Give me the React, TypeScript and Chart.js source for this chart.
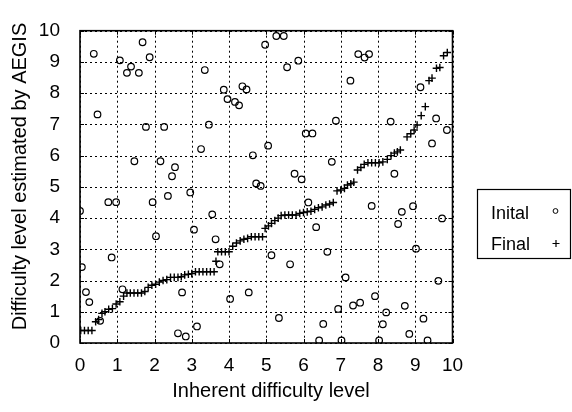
import React, { useEffect, useRef } from "react";
import { Chart, registerables } from "chart.js";

Chart.register(...registerables);

const axisTicks = [0, 1, 2, 3, 4, 5, 6, 7, 8, 9, 10];
const seriesLabels = ["Inital", "Final"];
const xTitle = "Inherent difficulty level";
const yTitle = "Difficulty level estimated by AEGIS";

const initialX = [
  0.37, 0.47, 1.07, 1.37, 1.26, 1.58, 1.68, 1.87, 1.77, 2.26, 1.46, 2.16, 2.55, 2.47, 3.35, 3.46, 3.25, 3.86, 3.96, 4.16,
  4.27, 4.36, 4.47, 4.64, 5.27, 5.47, 4.97, 5.86, 5.56, 7.47, 7.64, 7.76, 7.26, 9.14, 6.87, 8.34, 9.56, 9.85, 6.06, 6.24,
  5.05, 9.45, 6.76, 5.76, 5.95, 8.44, 0.0, 0.05, 0.16, 0.25, 0.54, 0.76, 0.97, 0.85, 1.14, 1.95, 2.04, 2.36, 2.96, 2.74,
  2.63, 2.84, 3.06, 3.14, 3.55, 3.64, 3.75, 4.03, 4.53, 4.73, 4.85, 6.13, 6.34, 7.83, 8.64, 8.54, 8.94, 9.72, 9.02, 6.64,
  5.14, 5.64, 7.13, 9.62, 7.92, 7.33, 7.52, 6.93, 8.72, 8.22, 5.34, 9.22, 8.13, 6.53, 8.84, 6.42, 7.02, 8.03, 9.33,
];
const initialY = [
  9.26, 7.32, 9.05, 8.85, 8.65, 8.65, 9.63, 9.15, 6.92, 6.92, 5.82, 5.82, 5.63, 5.34, 8.74, 6.99, 6.21, 8.11, 7.81, 7.72,
  7.61, 8.22, 8.12, 6.01, 9.83, 9.83, 9.55, 9.04, 8.83, 9.25, 9.14, 9.25, 8.4, 8.19, 7.12, 7.09, 7.19, 6.82, 6.71, 6.71,
  6.32, 6.39, 5.8, 5.42, 5.24, 5.42, 4.23, 2.43, 1.63, 1.31, 0.71, 4.51, 4.51, 2.74, 1.72, 4.51, 3.42, 4.71, 4.82, 1.62,
  0.31, 0.21, 3.63, 0.53, 4.12, 3.32, 2.52, 1.41, 1.62, 5.11, 5.03, 4.5, 3.71, 4.39, 4.2, 3.81, 4.38, 3.99, 3.02, 2.92,
  2.81, 2.52, 2.1, 1.99, 1.5, 1.2, 1.29, 1.09, 1.19, 0.98, 0.8, 0.78, 0.6, 0.61, 0.29, 0.08, 0.08, 0.08, 0.08,
];

const finalX = [
  0.02, 0.12, 0.22, 0.32, 0.42, 0.5, 0.59, 0.67, 0.77, 0.87, 0.97, 1.07, 1.17, 1.26, 1.35, 1.45, 1.55, 1.65, 1.74, 1.83,
  1.93, 2.03, 2.13, 2.23, 2.33, 2.43, 2.53, 2.63, 2.72, 2.81, 2.91, 3.0, 3.1, 3.2, 3.3, 3.4, 3.5, 3.6, 3.65, 3.7,
  3.8, 3.9, 4.0, 4.1, 4.2, 4.3, 4.4, 4.5, 4.6, 4.7, 4.8, 4.9, 4.97, 5.06, 5.14, 5.23, 5.32, 5.4, 5.5, 5.6,
  5.7, 5.8, 5.9, 6.0, 6.1, 6.2, 6.3, 6.4, 6.5, 6.6, 6.7, 6.8, 6.9, 7.0, 7.1, 7.18, 7.27, 7.35, 7.45, 7.54,
  7.63, 7.73, 7.83, 7.93, 8.03, 8.13, 8.25, 8.35, 8.44, 8.52, 8.6, 8.78, 8.88, 8.97, 9.05, 9.16, 9.27, 9.37, 9.45, 9.57,
  9.66, 9.76, 9.86,
];
const finalY = [
  0.4, 0.4, 0.4, 0.4, 0.68, 0.75, 0.95, 1.0, 1.08, 1.1, 1.25, 1.32, 1.5, 1.6, 1.6, 1.6, 1.6, 1.6, 1.65, 1.78,
  1.85, 1.88, 1.95, 2.0, 2.03, 2.1, 2.1, 2.1, 2.12, 2.18, 2.2, 2.22, 2.28, 2.28, 2.28, 2.28, 2.28, 2.28, 2.62, 2.92,
  2.92, 2.92, 2.92, 3.1, 3.2, 3.27, 3.32, 3.35, 3.4, 3.4, 3.4, 3.4, 3.67, 3.75, 3.83, 3.92, 4.0, 4.08, 4.1, 4.1,
  4.1, 4.1, 4.15, 4.18, 4.2, 4.22, 4.28, 4.33, 4.36, 4.42, 4.45, 4.5, 4.87, 4.9, 4.95, 5.06, 5.1, 5.15, 5.54, 5.62,
  5.72, 5.77, 5.77, 5.77, 5.77, 5.8, 5.88, 6.0, 6.08, 6.12, 6.18, 6.6, 6.7, 6.82, 6.98, 7.28, 7.57, 8.4, 8.48, 8.8,
  8.82, 9.2, 9.3,
];

const FONT = "'Liberation Sans', Arial, Helvetica, sans-serif";

const decorPlugin = {
  id: "decor",
  beforeDatasetsDraw(chart: any) {
    const { ctx, chartArea: a, scales } = chart;
    const xs = scales.x;
    const ys = scales.y;
    ctx.save();
    ctx.strokeStyle = "#000";
    ctx.lineWidth = 1;
    ctx.setLineDash([2, 3]);
    for (const v of axisTicks) {
      const px = Math.round(xs.getPixelForValue(v)) + 0.5;
      ctx.beginPath();
      ctx.moveTo(px, a.top);
      ctx.lineTo(px, a.bottom);
      ctx.stroke();
      const py = Math.round(ys.getPixelForValue(v)) + 0.5;
      ctx.beginPath();
      ctx.moveTo(a.left, py);
      ctx.lineTo(a.right, py);
      ctx.stroke();
    }
    ctx.setLineDash([]);
    const tl = 4;
    for (const v of axisTicks) {
      const px = Math.round(xs.getPixelForValue(v)) + 0.5;
      ctx.beginPath();
      ctx.moveTo(px, a.bottom);
      ctx.lineTo(px, a.bottom - tl);
      ctx.moveTo(px, a.top);
      ctx.lineTo(px, a.top + tl);
      ctx.stroke();
      const py = Math.round(ys.getPixelForValue(v)) + 0.5;
      ctx.beginPath();
      ctx.moveTo(a.left, py);
      ctx.lineTo(a.left + tl, py);
      ctx.moveTo(a.right, py);
      ctx.lineTo(a.right - tl, py);
      ctx.stroke();
    }
    ctx.lineWidth = 1.6;
    ctx.strokeRect(a.left, a.top, a.right - a.left, a.bottom - a.top);
    ctx.restore();
  },
  afterDraw(chart: any) {
    const { ctx } = chart;
    ctx.save();
    ctx.fillStyle = "#000";
    ctx.strokeStyle = "#000";
    ctx.font = `20px ${FONT}`;
    ctx.textAlign = "center";
    ctx.textBaseline = "alphabetic";
    ctx.fillText(xTitle, 271, 397);
    ctx.save();
    ctx.translate(26, 176.5);
    ctx.rotate(-Math.PI / 2);
    ctx.fillText(yTitle, 0, 0);
    ctx.restore();
    ctx.lineWidth = 1.2;
    ctx.strokeRect(477.5, 189.5, 93, 69);
    ctx.font = `18px ${FONT}`;
    ctx.textAlign = "left";
    ctx.fillText(chart.data.datasets[0].label, 491, 219);
    ctx.fillText(chart.data.datasets[1].label, 491, 250);
    ctx.lineWidth = 1;
    ctx.beginPath();
    ctx.arc(555.5, 211, 2.4, 0, Math.PI * 2);
    ctx.stroke();
    ctx.lineWidth = 1.2;
    ctx.beginPath();
    ctx.moveTo(552.5, 243.5);
    ctx.lineTo(559.5, 243.5);
    ctx.moveTo(556, 240);
    ctx.lineTo(556, 247);
    ctx.stroke();
    ctx.restore();
  },
};

export default function App() {
  const ref = useRef<HTMLCanvasElement>(null);
  useEffect(() => {
    if (!ref.current) return;
    const chart = new Chart(ref.current, {
      type: "scatter",
      data: {
        datasets: [
          {
            label: seriesLabels[0],
            data: initialX.map((x, i) => ({ x, y: initialY[i] })),
            pointStyle: "circle",
            pointRadius: 3.3,
            borderWidth: 1.2,
            borderColor: "#000",
            backgroundColor: "rgba(0,0,0,0)",
          },
          {
            label: seriesLabels[1],
            data: finalX.map((x, i) => ({ x, y: finalY[i] })),
            pointStyle: "cross",
            pointRadius: 3.8,
            borderWidth: 1.4,
            borderColor: "#000",
            backgroundColor: "#000",
          },
        ],
      },
      options: {
        responsive: false,
        animation: false,
        layout: { padding: { left: 0, right: 119.5, top: 30.7, bottom: 0 } },
        plugins: { legend: { display: false }, tooltip: { enabled: false } },
        scales: {
          x: {
            type: "linear",
            min: 0,
            max: 10,
            afterBuildTicks: (s: any) => {
              s.ticks = axisTicks.map((v) => ({ value: v }));
            },
            afterFit: (s: any) => {
              s.height = 69;
            },
            grid: { display: false },
            border: { display: false },
            ticks: { color: "#000", padding: 3, maxRotation: 0, font: { size: 19, family: FONT } },
          },
          y: {
            type: "linear",
            min: 0,
            max: 10,
            afterBuildTicks: (s: any) => {
              s.ticks = axisTicks.map((v) => ({ value: v }));
            },
            afterFit: (s: any) => {
              s.width = 80;
            },
            grid: { display: false },
            border: { display: false },
            ticks: { color: "#000", padding: 12, font: { size: 19, family: FONT } },
          },
        },
      },
      plugins: [decorPlugin],
    });
    return () => chart.destroy();
  }, []);
  return (
    <div style={{ position: "fixed", left: 0, top: 0, width: 572, height: 412, background: "#fff" }}>
      <canvas ref={ref} width={572} height={412} style={{ width: 572, height: 412, display: "block" }} />
    </div>
  );
}
